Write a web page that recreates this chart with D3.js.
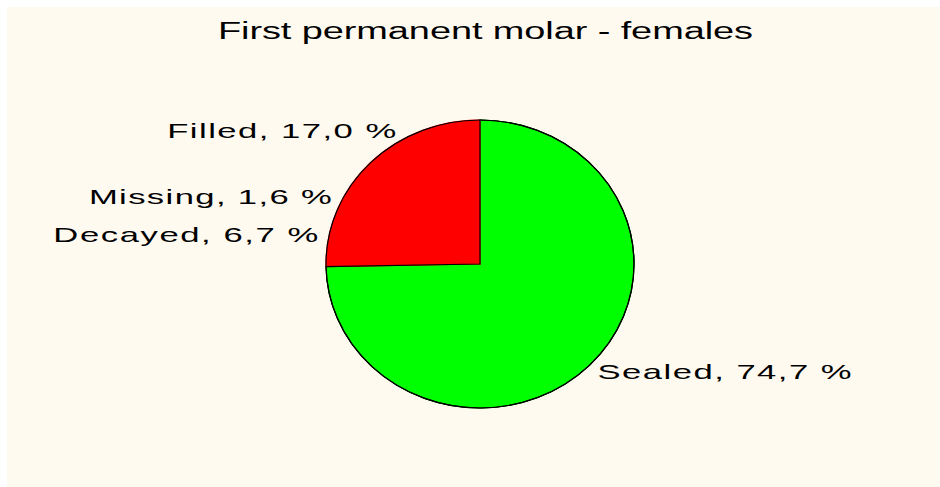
<!DOCTYPE html>
<html>
<head>
<meta charset="utf-8">
<script src="https://cdn.jsdelivr.net/npm/d3@7"></script>
<style>
  html, body { margin: 0; padding: 0; background: #ffffff; }
  text { font-family: "Liberation Sans", Arial, sans-serif; fill: #000; }
</style>
</head>
<body>
<div id="chart"></div>
<script>
// chart data
const title = "First permanent molar - females";
const categories = ["Sealed", "Decayed", "Missing", "Filled"];
const values = [74.7, 6.7, 1.6, 17.0];
const colors = ["#00ff00", "#ff0000", "#ff0000", "#ff0000"];

const width = 940, height = 487;
const cx = 480, cy = 264;
const radius = 144;
const stretch = 154 / 144;   // the pie is slightly wider than tall
const textStretch = 1.65;

// wanted on-screen label widths (px)
const labelWidths = [254, 265, 243, 229];

const svg = d3.select("#chart")
  .append("svg")
  .attr("width", width)
  .attr("height", height);

svg.append("rect")
  .attr("x", 7).attr("y", 7)
  .attr("width", width - 7).attr("height", height - 7)
  .attr("fill", "#fffaf0");

// title
svg.append("text")
  .attr("transform", "translate(" + 485.5 + ",39) scale(" + textStretch + ",1)")
  .attr("text-anchor", "middle")
  .attr("font-size", 23)
  .attr("textLength", 535 / textStretch)
  .attr("lengthAdjust", "spacing")
  .text(title);

const data = categories.map((c, i) => ({ name: c, value: values[i], color: colors[i], w: labelWidths[i] }));

const pie = d3.pie().sort(null).value(d => d.value);
const arcs = pie(data);

const arc = d3.arc().innerRadius(0).outerRadius(radius);
const labelArc = d3.arc().innerRadius(154).outerRadius(154);

const g = svg.append("g")
  .attr("transform", "translate(" + cx + "," + cy + ") scale(" + stretch + ",1)");

g.selectAll("path.slice")
  .data(arcs)
  .enter().append("path")
  .attr("class", "slice")
  .attr("d", arc)
  .attr("fill", d => d.data.color)
  .attr("stroke", d => d.data.color)
  .attr("stroke-width", 1.2)
  .attr("stroke-linejoin", "round")
  .attr("vector-effect", "non-scaling-stroke");

// outline of the sealed slice and whole circle
g.append("path")
  .attr("d", arc(arcs[0]))
  .attr("fill", "none")
  .attr("stroke", "#000")
  .attr("stroke-width", 1.2)
  .attr("vector-effect", "non-scaling-stroke");

g.append("path")
  .attr("d", arc({ startAngle: 0, endAngle: 2 * Math.PI }))
  .attr("fill", "none")
  .attr("stroke", "#000")
  .attr("stroke-width", 1.2)
  .attr("vector-effect", "non-scaling-stroke");

// labels
const fmt = v => v.toFixed(1).replace(".", ",") + " %";
g.selectAll("text.label")
  .data(arcs)
  .enter().append("text")
  .attr("class", "label")
  .attr("transform", d => {
    const p = labelArc.centroid(d);
    const s = textStretch / stretch;
    return "translate(" + p[0] + "," + (p[1] + 7) + ") scale(" + s + ",1)";
  })
  .attr("text-anchor", d => ((d.startAngle + d.endAngle) / 2 > Math.PI ? "end" : "start"))
  .attr("font-size", 21)
  .attr("textLength", d => d.data.w / textStretch)
  .attr("lengthAdjust", "spacing")
  .text(d => d.data.name + ", " + fmt(d.data.value));
</script>
</body>
</html>
